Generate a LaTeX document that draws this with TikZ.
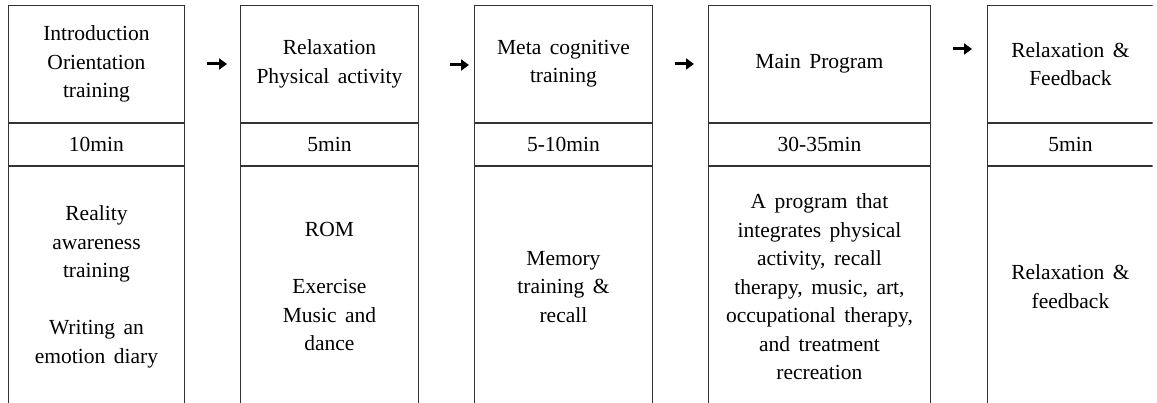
\documentclass[tikz,border=0pt]{standalone}
\usepackage{fontspec}
\setmainfont{Liberation Serif}
\usetikzlibrary{positioning,arrows.meta}

\tikzset{
  cell/.style={draw=black!80, line width=0.9pt, align=center, inner sep=0pt,
    font=\fontsize{21.5}{28.5}\selectfont,
    execute at begin node={\spaceskip=8.5pt plus 2pt minus 1pt\relax}},
  headcell/.style={cell, anchor=north west, minimum height=117pt},
  timecell/.style={cell, minimum height=42pt},
  bodycell/.style={cell, minimum height=241pt},
  flowarrow/.style={-{Triangle[length=8pt,width=11pt]}, line width=3pt, black},
}

\begin{document}
\begin{tikzpicture}[x=1pt,y=1pt]
\useasboundingbox (0,0) rectangle (1157,-403);
\clip (0,0) rectangle (1152.6,-403);

% introduction
\node[headcell, minimum width=176pt] (intro) at (8,-5) {Introduction\\Orientation\\training};
\node[timecell, minimum width=176pt, below=0pt of intro] (introtime) {10min};
\node[bodycell, minimum width=176pt, below=0pt of introtime] (introbody)
  {Reality\\awareness\\training\\[28.5pt]Writing an\\emotion diary};

% relaxation
\node[headcell, minimum width=178pt] (relax) at (240,-5) {Relaxation\\Physical activity};
\node[timecell, minimum width=178pt, below=0pt of relax] (relaxtime) {5min};
\node[bodycell, minimum width=178pt, below=0pt of relaxtime] (relaxbody)
  {ROM\\[28.5pt]Exercise\\Music and\\dance};

% meta cognitive
\node[headcell, minimum width=178pt] (meta) at (474,-5) {Meta cognitive\\training};
\node[timecell, minimum width=178pt, below=0pt of meta] (metatime) {5-10min};
\node[bodycell, minimum width=178pt, below=0pt of metatime] (metabody)
  {Memory\\training \&\\recall};

% main program
\node[headcell, minimum width=222pt] (main) at (708,-5) {Main Program};
\node[timecell, minimum width=222pt, below=0pt of main] (maintime) {30-35min};
\node[bodycell, minimum width=222pt, below=0pt of maintime] (mainbody)
  {A program that\\integrates physical\\activity, recall\\therapy, music, art,\\occupational therapy,\\and treatment\\recreation};

% relaxation & feedback
\node[headcell, minimum width=166pt] (feedback) at (987,-5) {Relaxation \&\\Feedback};
\node[timecell, minimum width=166pt, below=0pt of feedback] (feedbacktime) {5min};
\node[bodycell, minimum width=166pt, below=0pt of feedbacktime] (feedbackbody)
  {Relaxation \&\\feedback};

% arrows between the steps
\coordinate (arr1a) at (207,-64);  \coordinate (arr1b) at (227,-64);
\coordinate (arr2a) at (450,-65);  \coordinate (arr2b) at (469,-65);
\coordinate (arr3a) at (675,-64);  \coordinate (arr3b) at (694,-64);
\coordinate (arr4a) at (953,-49);  \coordinate (arr4b) at (972,-49);
\draw[flowarrow] (arr1a) -- (arr1b);
\draw[flowarrow] (arr2a) -- (arr2b);
\draw[flowarrow] (arr3a) -- (arr3b);
\draw[flowarrow] (arr4a) -- (arr4b);
\end{tikzpicture}
\end{document}
